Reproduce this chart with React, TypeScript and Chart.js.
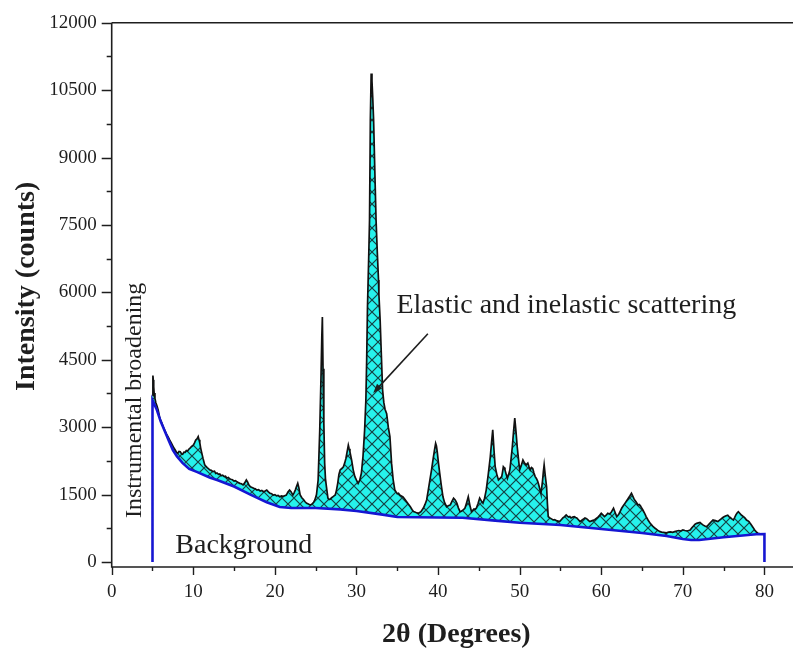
import React, { useEffect, useRef } from 'react';
import { Chart, registerables } from 'chart.js';

Chart.register(...registerables);

// ---- data: [2θ in degrees, intensity in counts] ----
const spectrum: [number, number][] = [
  [5.0, 3700], [5.05, 4150], [5.1, 4050], [5.15, 3900], [5.2, 3760], [5.3, 3640], [5.4, 3550], [5.55, 3470], [5.7, 3380], [5.85, 3240],
  [6.0, 3150], [6.15, 3090], [6.3, 3010], [6.5, 2930], [6.7, 2850], [6.9, 2790], [7.1, 2715], [7.3, 2650], [7.5, 2580], [7.65, 2530],
  [7.8, 2490], [7.95, 2440], [8.1, 2420], [8.25, 2460], [8.4, 2455], [8.55, 2410], [8.7, 2400], [8.85, 2445], [9.0, 2440], [9.15, 2480],
  [9.3, 2470], [9.45, 2510], [9.6, 2535], [9.8, 2570], [10.0, 2600], [10.15, 2650], [10.3, 2715], [10.45, 2740], [10.6, 2790], [10.7, 2720],
  [10.8, 2650], [10.9, 2540], [11.0, 2455], [11.2, 2300], [11.4, 2160], [11.55, 2130], [11.7, 2100], [11.85, 2080], [12.0, 2050], [12.2, 2040],
  [12.4, 2010], [12.6, 2020], [12.75, 1970], [12.9, 1980], [13.1, 1950], [13.25, 1960], [13.4, 1920], [13.6, 1930], [13.8, 1900], [13.95, 1910],
  [14.1, 1870], [14.3, 1880], [14.45, 1850], [14.6, 1840], [14.8, 1830], [15.0, 1800], [15.15, 1810], [15.3, 1790], [15.5, 1770], [15.7, 1750],
  [15.9, 1740], [16.1, 1715], [16.3, 1760], [16.5, 1825], [16.65, 1780], [16.8, 1720], [17.0, 1675], [17.2, 1660], [17.4, 1640], [17.6, 1630],
  [17.8, 1600], [18.0, 1610], [18.2, 1580], [18.4, 1590], [18.6, 1565], [18.8, 1580], [19.0, 1600], [19.2, 1560], [19.4, 1530], [19.6, 1520],
  [19.8, 1490], [20.0, 1500], [20.2, 1470], [20.4, 1480], [20.6, 1450], [20.8, 1470], [21.0, 1460], [21.2, 1475], [21.4, 1490], [21.6, 1560],
  [21.8, 1600], [22.0, 1560], [22.2, 1490], [22.35, 1540], [22.5, 1600], [22.65, 1680], [22.8, 1750], [22.95, 1640], [23.1, 1490], [23.3, 1430],
  [23.5, 1390], [23.7, 1340], [23.9, 1305], [24.1, 1290], [24.3, 1270], [24.45, 1280], [24.6, 1300], [24.75, 1330], [24.9, 1380], [25.1, 1500],
  [25.3, 1825], [25.5, 2940], [25.65, 4100], [25.75, 5000], [25.82, 5450], [25.9, 4300], [26.0, 3100], [26.1, 2200], [26.2, 1850], [26.3, 1700],
  [26.5, 1420], [26.65, 1390], [26.8, 1400], [26.95, 1430], [27.1, 1450], [27.25, 1470], [27.4, 1490], [27.55, 1600], [27.7, 1750], [27.85, 1950],
  [28.0, 2050], [28.2, 2080], [28.4, 2120], [28.55, 2200], [28.7, 2300], [28.85, 2450], [29.0, 2600], [29.1, 2520], [29.2, 2450], [29.4, 2270],
  [29.6, 2050], [29.8, 1900], [30.0, 1820], [30.2, 1750], [30.4, 1820], [30.6, 1975], [30.8, 2350], [31.0, 2940], [31.15, 3600], [31.25, 4500],
  [31.35, 5680], [31.5, 6800], [31.6, 7610], [31.7, 9830], [31.8, 10870], [31.9, 10700], [32.0, 10300], [32.1, 9830], [32.25, 8700], [32.4, 7610],
  [32.55, 6900], [32.7, 6275], [32.75, 5950], [32.9, 5385], [33.05, 4600], [33.2, 3830], [33.35, 3550], [33.5, 3400], [33.7, 3300], [33.9, 3000],
  [34.1, 2790], [34.3, 2200], [34.5, 1825], [34.7, 1600], [34.85, 1560], [35.0, 1520], [35.15, 1530], [35.3, 1490], [35.5, 1470], [35.7, 1450],
  [35.9, 1400], [36.1, 1350], [36.35, 1290], [36.6, 1230], [36.8, 1170], [37.0, 1120], [37.3, 1100], [37.6, 1085], [37.9, 1120], [38.2, 1200],
  [38.4, 1280], [38.6, 1380], [38.8, 1600], [39.0, 1825], [39.2, 2050], [39.4, 2300], [39.55, 2480], [39.7, 2640], [39.8, 2580], [39.9, 2450],
  [40.05, 2200], [40.2, 1980], [40.4, 1700], [40.6, 1450], [40.8, 1320], [41.05, 1230], [41.25, 1250], [41.5, 1270], [41.7, 1350], [41.9, 1420],
  [42.1, 1380], [42.3, 1310], [42.5, 1200], [42.7, 1120], [42.85, 1130], [43.0, 1150], [43.15, 1170], [43.3, 1200], [43.5, 1320], [43.7, 1450],
  [43.9, 1260], [44.1, 1120], [44.25, 1150], [44.4, 1180], [44.55, 1170], [44.7, 1200], [44.9, 1300], [45.1, 1420], [45.3, 1360], [45.5, 1310],
  [45.7, 1420], [45.9, 1600], [46.15, 1950], [46.4, 2340], [46.55, 2650], [46.7, 2940], [46.85, 2500], [47.0, 2120], [47.2, 1950], [47.4, 1825],
  [47.6, 1860], [47.8, 1900], [47.9, 2000], [48.0, 2120], [48.1, 2100], [48.2, 2050], [48.35, 1950], [48.5, 1860], [48.65, 1950], [48.8, 2050],
  [48.95, 2300], [49.1, 2565], [49.25, 2900], [49.4, 3200], [49.55, 2900], [49.7, 2565], [49.85, 2300], [50.0, 2050], [50.2, 2150], [50.4, 2270],
  [50.6, 2200], [50.8, 2160], [51.0, 2200], [51.15, 2120], [51.3, 2050], [51.45, 2100], [51.6, 2080], [51.75, 1980], [51.9, 1900], [52.05, 1860],
  [52.2, 1800], [52.3, 1740], [52.4, 1675], [52.5, 1600], [52.6, 1530], [52.7, 1650], [52.8, 1800], [52.9, 2000], [53.0, 2160], [53.15, 1900],
  [53.3, 1675], [53.4, 1300], [53.5, 1010], [53.7, 980], [53.9, 960], [54.1, 935], [54.3, 940], [54.5, 920], [54.7, 910], [54.9, 900],
  [55.1, 940], [55.3, 980], [55.5, 1010], [55.7, 1045], [55.85, 1020], [56.0, 1000], [56.15, 1010], [56.3, 980], [56.5, 1000], [56.7, 1010],
  [56.85, 990], [57.0, 980], [57.2, 940], [57.4, 900], [57.55, 920], [57.7, 940], [57.85, 960], [58.0, 980], [58.15, 970], [58.3, 950],
  [58.45, 920], [58.6, 900], [58.9, 920], [59.2, 940], [59.4, 970], [59.6, 1000], [59.8, 1040], [60.0, 1085], [60.2, 1050], [60.4, 1010],
  [60.6, 1040], [60.8, 1085], [61.0, 1070], [61.2, 1100], [61.35, 1150], [61.5, 1195], [61.7, 1100], [61.9, 1010], [62.05, 1040], [62.2, 1080],
  [62.35, 1140], [62.5, 1195], [62.7, 1250], [62.9, 1305], [63.1, 1360], [63.3, 1415], [63.5, 1470], [63.7, 1530], [63.85, 1470], [64.0, 1410],
  [64.1, 1380], [64.3, 1330], [64.5, 1270], [64.65, 1280], [64.8, 1250], [64.95, 1200], [65.1, 1160], [65.3, 1090], [65.5, 1010], [65.75, 930],
  [66.0, 860], [66.3, 800], [66.6, 750], [66.9, 710], [67.2, 675], [67.4, 665], [67.6, 660], [67.8, 655], [68.0, 650], [68.25, 665],
  [68.5, 670], [68.75, 660], [69.0, 675], [69.25, 690], [69.5, 700], [69.75, 690], [70.0, 712], [70.25, 700], [70.5, 690], [70.7, 700],
  [70.9, 712], [71.1, 760], [71.3, 800], [71.5, 840], [71.7, 860], [71.9, 870], [72.1, 880], [72.3, 850], [72.5, 820], [72.7, 800],
  [72.9, 785], [73.1, 820], [73.3, 860], [73.5, 900], [73.7, 935], [73.85, 930], [74.0, 920], [74.15, 910], [74.3, 900], [74.5, 930],
  [74.7, 960], [74.9, 990], [75.1, 1010], [75.3, 1030], [75.5, 1040], [75.65, 1010], [75.8, 990], [76.0, 960], [76.2, 935], [76.35, 990],
  [76.5, 1050], [76.65, 1090], [76.8, 1120], [77.0, 1080], [77.2, 1040], [77.35, 1020], [77.5, 1000], [77.65, 970], [77.8, 935], [77.95, 920],
  [78.1, 900], [78.25, 860], [78.4, 823], [78.6, 770], [78.8, 712], [79.0, 670], [79.2, 640], [79.4, 630], [79.6, 625], [79.8, 622],
  [80.0, 620],
];
const background: [number, number][] = [
  [5, 0], [5, 3600], [5.5, 3400], [6, 3130], [7, 2700], [7.5, 2490], [8, 2350], [8.7, 2200], [9.5, 2070], [10.5, 2000],
  [12, 1880], [13, 1820], [15, 1680], [17, 1500], [19, 1330], [20.6, 1225], [22, 1200], [25, 1200], [28, 1170], [30, 1135],
  [33, 1060], [35, 1000], [40, 990], [43, 985], [47, 920], [50, 875], [55, 823], [60, 735], [65, 645], [68, 578],
  [70, 510], [71, 490], [72, 490], [75, 550], [79, 616], [80, 620], [80, 0],
];
const xTickValues = [0, 10, 20, 30, 40, 50, 60, 70, 80];
const xMinorTickValues = [5, 15, 25, 35, 45, 55, 65, 75];
const yTickValues = [0, 1500, 3000, 4500, 6000, 7500, 9000, 10500, 12000];
const yMinorTickValues = [750, 2250, 3750, 5250, 6750, 8250, 9750, 11250];

const xTitle = '2θ (Degrees)';
const yTitle = 'Intensity (counts)';
const labelScattering = 'Elastic and inelastic scattering';
const labelBackground = 'Background';
const labelInstrumental = 'Instrumental broadening';

const FONT = '"Liberation Serif", "Times New Roman", serif';
const INK = '#1e1e1e';

function makeHatch(ctx: CanvasRenderingContext2D): CanvasPattern | string {
  const s = 12;
  const c = document.createElement('canvas');
  c.width = s;
  c.height = s;
  const g = c.getContext('2d');
  if (!g) return 'rgb(40,240,235)';
  g.fillStyle = 'rgb(38,242,236)';
  g.fillRect(0, 0, s, s);
  g.strokeStyle = 'rgba(20,55,58,0.95)';
  g.lineWidth = 1.2;
  g.beginPath();
  g.moveTo(-1, -1);
  g.lineTo(s + 1, s + 1);
  g.moveTo(s + 1, -1);
  g.lineTo(-1, s + 1);
  g.stroke();
  return ctx.createPattern(c, 'repeat') || 'rgb(40,240,235)';
}

const decorPlugin = {
  id: 'decor',
  beforeDatasetsDraw(chart: any) {
    const { ctx, chartArea, scales } = chart;
    const xs = scales.x;
    const ys = scales.y;
    ctx.save();
    ctx.beginPath();
    ctx.rect(chartArea.left, chartArea.top, chartArea.right - chartArea.left, chartArea.bottom - chartArea.top);
    ctx.clip();
    ctx.beginPath();
    spectrum.forEach(([t, c], i) => {
      const px = xs.getPixelForValue(t);
      const py = ys.getPixelForValue(c);
      if (i === 0) ctx.moveTo(px, py);
      else ctx.lineTo(px, py);
    });
    for (let i = background.length - 1; i >= 0; i--) {
      const [t, c] = background[i];
      if (c <= 0) continue;
      ctx.lineTo(xs.getPixelForValue(t), ys.getPixelForValue(c));
    }
    ctx.closePath();
    ctx.fillStyle = makeHatch(ctx);
    ctx.fill();
    ctx.restore();
  },
  afterDraw(chart: any) {
    const { ctx, chartArea, scales } = chart;
    const xs = scales.x;
    const ys = scales.y;
    const W = chart.width;
    const left = chartArea.left;
    const top = chartArea.top;
    const axisY = chartArea.bottom + 5;
    ctx.save();
    ctx.strokeStyle = INK;
    ctx.lineWidth = 1.6;
    ctx.beginPath();
    ctx.moveTo(left, top);
    ctx.lineTo(W, top);
    ctx.moveTo(left, top);
    ctx.lineTo(left, axisY);
    ctx.lineTo(W, axisY);
    ctx.stroke();

    ctx.lineWidth = 1.4;
    ctx.beginPath();
    xTickValues.forEach((v) => {
      const px = Math.round(xs.getPixelForValue(v)) + 0.5;
      ctx.moveTo(px, axisY);
      ctx.lineTo(px, axisY + 8);
    });
    xMinorTickValues.forEach((v) => {
      const px = Math.round(xs.getPixelForValue(v)) + 0.5;
      ctx.moveTo(px, axisY);
      ctx.lineTo(px, axisY + 4);
    });
    yTickValues.forEach((v) => {
      const py = Math.round(ys.getPixelForValue(v)) + 0.5;
      ctx.moveTo(left, py);
      ctx.lineTo(left - 10, py);
    });
    yMinorTickValues.forEach((v) => {
      const py = Math.round(ys.getPixelForValue(v)) + 0.5;
      ctx.moveTo(left, py);
      ctx.lineTo(left - 5, py);
    });
    ctx.stroke();

    ctx.fillStyle = INK;
    ctx.font = `19px ${FONT}`;
    ctx.textAlign = 'center';
    ctx.textBaseline = 'middle';
    xTickValues.forEach((v) => {
      ctx.fillText(String(v), xs.getPixelForValue(v), axisY + 25);
    });
    ctx.textAlign = 'right';
    yTickValues.forEach((v) => {
      ctx.fillText(String(v), left - 15, ys.getPixelForValue(v));
    });

    ctx.font = `bold 28px ${FONT}`;
    ctx.textAlign = 'center';
    ctx.textBaseline = 'alphabetic';
    ctx.fillText(xTitle, (left + W) / 2 + 4, 642);
    ctx.save();
    ctx.translate(27, (chartArea.top + chartArea.bottom) / 2 - 6);
    ctx.rotate(-Math.PI / 2);
    ctx.textBaseline = 'middle';
    ctx.fillText(yTitle, 0, 0);
    ctx.restore();

    ctx.font = `28px ${FONT}`;
    ctx.textAlign = 'left';
    ctx.textBaseline = 'alphabetic';
    ctx.fillText(labelScattering, xs.getPixelForValue(34.9), ys.getPixelForValue(5540));
    ctx.fillText(labelBackground, xs.getPixelForValue(7.8), ys.getPixelForValue(200));
    ctx.save();
    ctx.font = `24px ${FONT}`;
    ctx.translate(xs.getPixelForValue(3.65), ys.getPixelForValue(980));
    ctx.rotate(-Math.PI / 2);
    ctx.fillText(labelInstrumental, 0, 0);
    ctx.restore();

    const x0 = xs.getPixelForValue(38.75);
    const y0 = ys.getPixelForValue(5080);
    const x1 = xs.getPixelForValue(32.05);
    const y1 = ys.getPixelForValue(3760);
    const ang = Math.atan2(y1 - y0, x1 - x0);
    ctx.strokeStyle = INK;
    ctx.lineWidth = 1.6;
    ctx.beginPath();
    ctx.moveTo(x0, y0);
    ctx.lineTo(x1 - Math.cos(ang) * 6, y1 - Math.sin(ang) * 6);
    ctx.stroke();
    ctx.beginPath();
    ctx.moveTo(x1, y1);
    ctx.lineTo(x1 - Math.cos(ang - 0.35) * 10, y1 - Math.sin(ang - 0.35) * 10);
    ctx.lineTo(x1 - Math.cos(ang + 0.35) * 10, y1 - Math.sin(ang + 0.35) * 10);
    ctx.closePath();
    ctx.fill();
    ctx.restore();
  },
};

export default function App() {
  const ref = useRef<HTMLCanvasElement | null>(null);
  useEffect(() => {
    if (!ref.current) return;
    const chart = new Chart(ref.current, {
      type: 'line',
      data: {
        datasets: [
          {
            label: 'Background',
            data: background.map(([x, y]) => ({ x, y })),
            borderColor: 'rgb(22,22,210)',
            borderWidth: 2.6,
            pointRadius: 0,
            tension: 0,
            fill: false,
          },
          {
            label: 'Spectrum',
            data: spectrum.map(([x, y]) => ({ x, y })),
            borderColor: '#111111',
            borderWidth: 1.7,
            pointRadius: 0,
            tension: 0,
            fill: false,
          },
        ],
      },
      options: {
        responsive: false,
        animation: false,
        devicePixelRatio: 1,
        layout: { padding: { left: 111.7, right: 0, top: 22.7, bottom: 87 } },
        plugins: { legend: { display: false }, tooltip: { enabled: false } },
        scales: {
          x: { type: 'linear', min: 0, max: 83.5, display: false },
          y: { type: 'linear', min: 0, max: 12000, display: false },
        },
      },
      plugins: [decorPlugin],
    } as any);
    return () => chart.destroy();
  }, []);
  return (
    <div style={{ position: 'fixed', left: 0, top: 0, width: 793, height: 649, background: '#fff' }}>
      <canvas ref={ref} width={793} height={649} style={{ width: 793, height: 649, display: 'block' }} />
    </div>
  );
}
